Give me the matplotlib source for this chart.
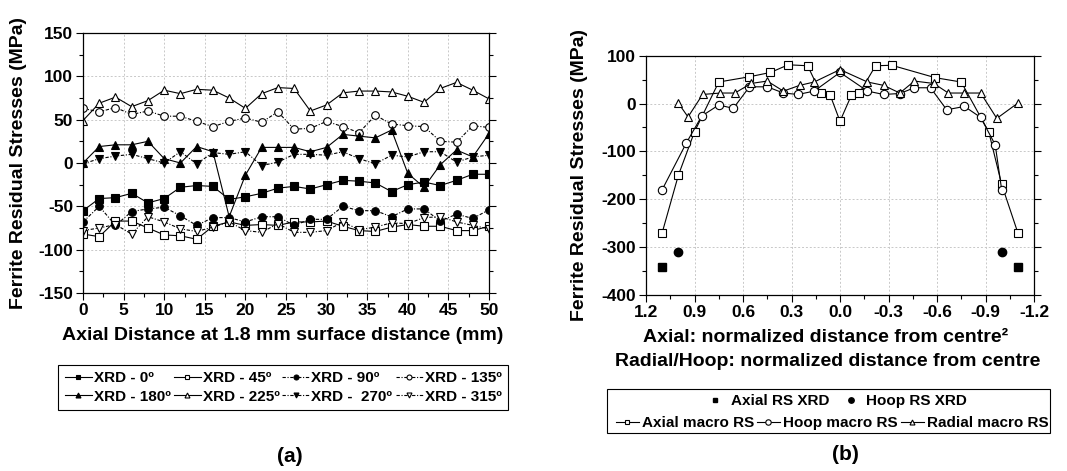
import matplotlib
matplotlib.use("Agg")
import matplotlib.pyplot as plt
from matplotlib.patches import Rectangle
from matplotlib.ticker import MultipleLocator

plt.rcParams["font.family"] = ["Liberation Sans", "DejaVu Sans"]
plt.rcParams["font.weight"] = "bold"
plt.rcParams["axes.unicode_minus"] = False

# ---- panel (a): XRD stresses along axial distance ----
dist_mm = [0, 2, 4, 6, 8, 10, 12, 14, 16, 18, 20, 22, 24,
           26, 28, 30, 32, 34, 36, 38, 40, 42, 44, 46, 48, 50]

xrd_0 = [-55, -41, -40, -35, -46, -41, -28, -26, -27, -42, -39, -35, -29,
         -27, -30, -25, -20, -21, -23, -33, -25, -22, -26, -20, -13, -13]
xrd_45 = [-82, -85, -67, -67, -75, -83, -84, -88, -73, -68, -72, -71, -72,
          -68, -68, -67, -73, -78, -79, -74, -71, -73, -73, -78, -78, -73]
xrd_90 = [-68, -50, -72, -56, -53, -51, -61, -72, -63, -63, -68, -62, -62,
          -72, -65, -65, -50, -55, -55, -62, -53, -53, -67, -59, -64, -54]
xrd_135 = [63, 59, 64, 56, 60, 54, 54, 48, 42, 48, 52, 47, 59,
           39, 40, 48, 42, 35, 55, 45, 43, 42, 25, 24, 43, 41]
xrd_180 = [0, 19, 21, 21, 25, 5, 0, 19, 13, -62, -14, 18, 18,
           18, 13, 18, 33, 31, 29, 38, -12, -28, -2, 15, 7, 34]
xrd_225 = [49, 69, 76, 65, 72, 84, 80, 85, 84, 75, 63, 80, 87,
           86, 60, 67, 81, 83, 83, 82, 77, 70, 86, 93, 84, 74]
xrd_270 = [-1, 5, 8, 10, 5, 0, 13, -1, 12, 10, 13, -3, 1,
           10, 10, 9, 13, 5, -1, 9, 7, 13, 13, 1, 7, 9]
xrd_315 = [-78, -75, -71, -82, -62, -68, -76, -79, -74, -68, -78, -80, -70,
           -80, -80, -78, -68, -77, -74, -69, -70, -63, -62, -68, -72, -76]

labels_a = ["XRD - 0º", "XRD - 45º", "XRD - 90º", "XRD - 135º",
            "XRD - 180º", "XRD - 225º", "XRD -  270º", "XRD - 315º"]

# ---- panel (b): macro residual stresses across the section ----
axial_macro_x = [1.10, 1.00, 0.90, 0.75, 0.56, 0.43, 0.32, 0.20, 0.12, 0.06, 0.0,
                 -0.07, -0.12, -0.22, -0.32, -0.59, -0.75, -0.92, -1.00, -1.10]
axial_macro_y = [-270, -150, -59, 45, 56, 65, 81, 79, 22, 17, -37,
                 17, 22, 79, 80, 54, 45, -59, -169, -270]

hoop_macro_x = [1.10, 0.95, 0.855, 0.75, 0.66, 0.56, 0.45, 0.35, 0.26, 0.16, 0.0,
                -0.17, -0.27, -0.37, -0.46, -0.56, -0.66, -0.77, -0.87, -0.96, -1.00]
hoop_macro_y = [-180, -82, -26, -3, -10, 35, 35, 22, 19, 26, 65,
                26, 19, 21, 33, 33, -13, -6, -29, -86, -180]

radial_macro_x = [1.00, 0.94, 0.85, 0.74, 0.65, 0.55, 0.45, 0.35, 0.25, 0.16, 0.0,
                  -0.17, -0.27, -0.37, -0.46, -0.58, -0.67, -0.77, -0.87, -0.97, -1.10]
radial_macro_y = [1, -28, 19, 22, 22, 42, 47, 26, 38, 45, 71,
                  45, 38, 22, 47, 42, 22, 22, 22, -31, 1]

axial_xrd_x = [1.1, -1.1]
axial_xrd_y = [-341, -341]
hoop_xrd_x = [1.0, -1.0]
hoop_xrd_y = [-310, -310]

W, H = 1067, 471
fig = plt.figure(figsize=(W / 100, H / 100), dpi=100)

tick_fs = 12.5
label_fs = 14
leg_fs = 11
dashdot = (0, (3, 1.5, 1, 1.5))


def style_axes(ax):
    ax.grid(True, which="major", color="#c8c8c8", linestyle=(0, (2, 2)), linewidth=0.7)
    ax.set_axisbelow(True)
    ax.tick_params(which="both", direction="out", top=False, right=True,
                   labelsize=tick_fs, width=0.8, pad=2)
    ax.tick_params(which="major", length=5)
    ax.tick_params(which="minor", length=3)
    for sp in ax.spines.values():
        sp.set_linewidth(0.9)
    for lab in ax.get_xticklabels() + ax.get_yticklabels():
        lab.set_fontweight("bold")


# panel (a)
ax1 = fig.add_axes([83 / W, 1 - 293 / H, 406 / W, 260 / H])
series_a = [xrd_0, xrd_45, xrd_90, xrd_135, xrd_180, xrd_225, xrd_270, xrd_315]
markers_a = ["s", "s", "o", "o", "^", "^", "v", "v"]
filled_a = [True, False, True, False, True, False, True, False]
styles_a = ["-", "-", dashdot, dashdot, "-", "-", dashdot, dashdot]
handles_a = []
for ys, m, f, ls, lab in zip(series_a, markers_a, filled_a, styles_a, labels_a):
    h, = ax1.plot(dist_mm, ys, linestyle=ls, color="black", linewidth=0.8,
                  marker=m, markersize=5.5,
                  markerfacecolor="black" if f else "white",
                  markeredgecolor="black", markeredgewidth=0.8, label=lab)
    handles_a.append(h)
ax1.set_xlim(0, 50)
ax1.set_ylim(-150, 150)
ax1.xaxis.set_major_locator(MultipleLocator(5))
ax1.xaxis.set_minor_locator(MultipleLocator(2.5))
ax1.yaxis.set_major_locator(MultipleLocator(50))
ax1.yaxis.set_minor_locator(MultipleLocator(25))
style_axes(ax1)

fig.text(19 / W, 1 - 163 / H, "Ferrite Residual Stresses (MPa)", rotation=90,
         ha="center", va="center", fontsize=label_fs, fontweight="bold")
fig.text(283 / W, 1 - 335 / H, "Axial Distance at 1.8 mm surface distance (mm)",
         ha="center", va="center", fontsize=label_fs, fontweight="bold")

order = [0, 4, 1, 5, 2, 6, 3, 7]
leg_a = fig.legend([handles_a[i] for i in order], [labels_a[i] for i in order],
                   ncol=4, loc="center", bbox_to_anchor=(283 / W, 1 - 387.5 / H),
                   bbox_transform=fig.transFigure,
                   prop={"weight": "bold", "size": leg_fs},
                   handlelength=1.8, handletextpad=0.1, columnspacing=0.2,
                   markerscale=0.65, labelspacing=0.3, borderpad=0.4,
                   fancybox=False, edgecolor="black", framealpha=1)
leg_a.get_frame().set_linewidth(0.8)

fig.text(290 / W, 1 - 456 / H, "(a)", ha="center", va="center",
         fontsize=15, fontweight="bold")

# panel (b)
ax2 = fig.add_axes([646 / W, 1 - 295 / H, 388 / W, 239.3 / H])
h_axr, = ax2.plot(axial_xrd_x, axial_xrd_y, linestyle="none", marker="s",
                  markersize=5.5, color="black", label="Axial RS XRD")
h_hxr, = ax2.plot(hoop_xrd_x, hoop_xrd_y, linestyle="none", marker="o",
                  markersize=6, color="black", label="Hoop RS XRD")
h_am, = ax2.plot(axial_macro_x, axial_macro_y, "-", color="black", linewidth=0.8,
                 marker="s", markersize=5.5, markerfacecolor="white",
                 markeredgewidth=0.8, label="Axial macro RS")
h_hm, = ax2.plot(hoop_macro_x, hoop_macro_y, "-", color="black", linewidth=0.8,
                 marker="o", markersize=6, markerfacecolor="white",
                 markeredgewidth=0.8, label="Hoop macro RS")
h_rm, = ax2.plot(radial_macro_x, radial_macro_y, "-", color="black", linewidth=0.8,
                 marker="^", markersize=5.5, markerfacecolor="white",
                 markeredgewidth=0.8, label="Radial macro RS")
ax2.set_xlim(1.2, -1.2)
ax2.set_ylim(-400, 100)
ax2.xaxis.set_minor_locator(MultipleLocator(0.15))
ax2.yaxis.set_major_locator(MultipleLocator(100))
ax2.yaxis.set_minor_locator(MultipleLocator(50))
ax2.set_xticks([1.2, 0.9, 0.6, 0.3, 0.0, -0.3, -0.6, -0.9, -1.2])
ax2.set_xticklabels(["1.2", "0.9", "0.6", "0.3", "0.0", "-0.3", "-0.6", "-0.9", "-1.2"])
style_axes(ax2)

fig.text(579 / W, 1 - 175 / H, "Ferrite Residual Stresses (MPa)", rotation=90,
         ha="center", va="center", fontsize=label_fs, fontweight="bold")
fig.text(826 / W, 1 - 338 / H, "Axial: normalized distance from centre²",
         ha="center", va="center", fontsize=label_fs, fontweight="bold")
fig.text(828 / W, 1 - 361 / H, "Radial/Hoop: normalized distance from centre",
         ha="center", va="center", fontsize=label_fs, fontweight="bold")

fig.add_artist(Rectangle((607 / W, 1 - 433 / H), 443 / W, 44 / H,
                         transform=fig.transFigure, fill=False,
                         edgecolor="black", linewidth=0.8))
leg_b1 = fig.legend([h_axr, h_hxr], ["Axial RS XRD", "Hoop RS XRD"], ncol=2,
                    loc="center", bbox_to_anchor=(835 / W, 1 - 401 / H),
                    bbox_transform=fig.transFigure, frameon=False,
                    prop={"weight": "bold", "size": leg_fs},
                    handlelength=1.6, handletextpad=0.2, columnspacing=0.6,
                    markerscale=0.65, borderpad=0.0)
leg_b2 = fig.legend([h_am, h_hm, h_rm], ["Axial macro RS", "Hoop macro RS", "Radial macro RS"],
                    ncol=3, loc="center", bbox_to_anchor=(832 / W, 1 - 423 / H),
                    bbox_transform=fig.transFigure, frameon=False,
                    prop={"weight": "bold", "size": leg_fs},
                    handlelength=1.5, handletextpad=0.2, columnspacing=0.2,
                    markerscale=0.65, borderpad=0.0)

fig.text(845 / W, 1 - 455 / H, "(b)", ha="center", va="center",
         fontsize=15, fontweight="bold")

fig.savefig("out.png", dpi=100)
